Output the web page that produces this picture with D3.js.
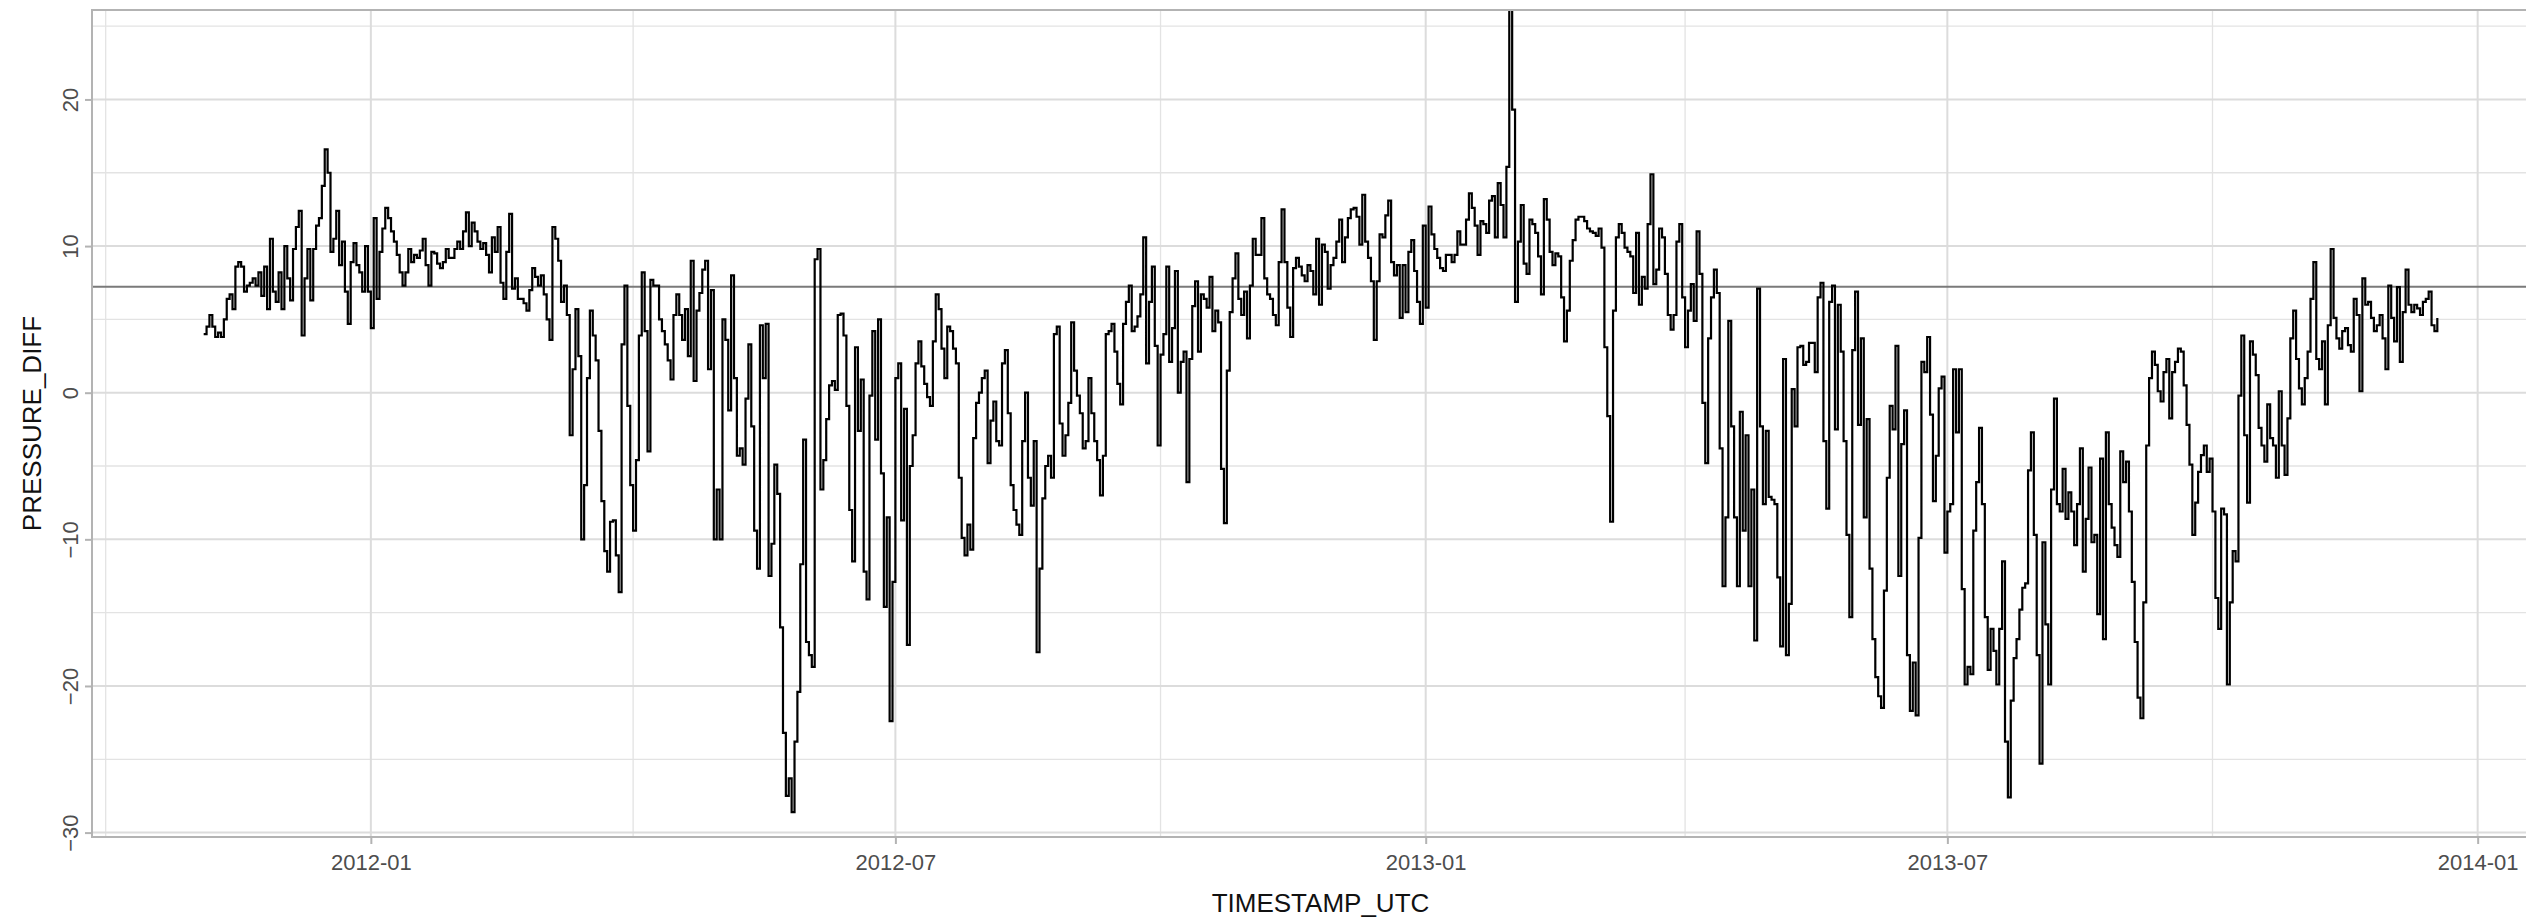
<!DOCTYPE html>
<html>
<head>
<meta charset="utf-8">
<script src="https://cdn.jsdelivr.net/npm/d3@7"></script>
<style>
  html, body { margin: 0; padding: 0; background: #ffffff; }
  svg { display: block; }
</style>
</head>
<body>
<svg id="chart" width="2526" height="922"></svg>
<script>
// ---------------- data ----------------
const firstDay = "2011-11-04";           // date of the first daily value
const pressureDiff = [
  // 2011-11-04 .. 2012-02-21
  4.0,4.5,5.3,4.5,3.8,4.1,3.8,5.0,6.4,6.7,
  5.7,8.6,8.9,8.6,6.9,7.3,7.5,7.8,7.3,8.2,
  6.6,8.6,5.7,10.5,6.9,6.2,8.2,5.7,10.0,7.8,
  6.3,9.8,11.3,12.4,3.9,7.8,9.8,6.3,9.8,11.4,
  11.9,14.1,16.6,15.0,9.6,10.5,12.4,8.7,10.3,6.9,
  4.7,8.9,10.2,8.7,8.2,6.9,10.0,6.9,4.4,11.9,
  6.4,9.6,11.2,12.6,11.9,11.0,10.3,9.4,8.2,7.3,
  8.2,9.8,8.9,9.4,9.2,9.7,10.5,8.7,7.3,9.6,
  9.5,8.8,8.5,8.9,9.8,9.2,9.2,9.8,10.3,9.8,
  11.0,12.3,10.0,11.6,11.0,10.3,9.8,10.2,9.4,8.2,
  10.6,9.6,11.3,7.5,6.4,9.6,12.2,7.1,7.8,6.4,
  // 2012-02-22 .. 2012-06-11
  6.4,6.1,5.6,7.0,8.5,7.9,7.3,8.0,6.7,5.0,
  3.6,11.3,10.5,9.0,6.2,7.3,5.3,-2.9,1.6,5.7,
  2.5,-10,-6.3,1.0,5.6,3.9,2.2,-2.6,-7.4,-10.8,
  -12.2,-8.8,-8.7,-11.1,-13.6,3.3,7.3,-0.9,-6.3,-9.4,
  -4.6,3.9,8.2,4.2,-4.0,7.7,7.3,7.3,5.0,4.2,
  3.3,2.2,0.9,5.3,6.7,5.3,3.6,5.7,2.5,9.0,
  0.8,5.6,6.8,8.4,9.0,1.6,7.0,-10,-6.6,-10,
  5.0,3.6,-1.2,8.0,1.0,-4.3,-3.8,-4.9,-0.4,3.3,
  -2.3,-9.4,-12,4.6,1.0,4.7,-12.5,-10.3,-4.9,-6.9,
  -16,-23.2,-27.5,-26.3,-28.6,-23.8,-20.4,-11.7,-3.2,-17,
  -17.9,-18.7,9.1,9.8,-6.6,-4.6,-1.8,0.5,0.8,0.2,5.3,
  // 2012-06-12 .. 2012-09-30
  5.4,3.9,-0.9,-8.0,-11.5,3.1,-2.6,0.9,-12.2,-14.1,
  -0.2,4.2,-3.2,5.0,-5.5,-14.6,-8.5,-22.4,-12.9,1.0,
  2.0,-8.7,-1.1,-17.2,-5.0,-2.9,2.0,3.5,1.8,0.6,
  -0.3,-0.9,3.5,6.7,5.7,3.0,1.0,4.5,4.2,3.0,
  2.0,-5.8,-9.9,-11.1,-9.0,-10.7,-3.1,-0.7,0.0,1.0,
  1.5,-4.8,-1.9,-0.6,-3.3,-3.6,2.0,2.9,-1.4,-6.3,
  -8.0,-9.0,-9.7,-3.3,0.0,-5.8,-7.7,-3.3,-17.7,-12,
  -7.2,-5.0,-4.3,-5.8,4.0,4.5,-2.1,-4.3,-2.9,-0.7,
  4.8,1.5,-0.2,-1.4,-3.8,-3.3,1.0,-1.4,-3.3,-4.6,
  -7.0,-4.3,4.0,4.2,4.7,2.8,0.6,-0.8,4.7,6.2,
  7.3,4.2,4.5,5.2,6.7,10.6,2.0,6.2,8.6,3.2,-3.6,
  // 2012-10-01 .. 2013-01-20
  2.6,4.0,8.6,2.1,4.4,8.3,0.0,2.1,2.8,-6.1,
  2.3,5.9,7.6,2.8,6.7,6.4,5.8,7.9,4.2,5.6,
  4.8,-5.2,-8.9,1.5,5.5,7.8,9.5,6.4,5.3,6.9,
  3.7,7.3,10.5,9.4,9.4,11.9,7.8,6.7,6.4,5.3,
  4.6,8.9,12.5,8.9,5.8,3.8,8.5,9.2,8.6,8.0,
  7.6,8.7,8.3,6.7,10.5,6.0,10.1,9.6,7.1,8.7,
  9.2,10.3,11.8,8.9,10.6,11.9,12.5,12.6,12.0,10.1,
  13.5,10.3,9.2,7.6,3.6,7.6,10.8,10.6,12.1,13.1,
  8.9,8.0,8.7,5.1,8.7,5.5,9.6,10.4,8.3,6.2,
  4.7,11.4,5.8,12.7,10.8,9.8,9.2,8.5,8.3,9.4,
  9.4,8.9,9.4,11.0,10.1,10.1,11.8,13.6,12.6,11.4,9.4,11.7,
  // 2013-01-21 .. 2013-05-10
  11.5,10.9,13.1,13.4,10.6,14.3,12.8,10.6,15.4,27,
  19.3,6.2,10.3,12.8,8.8,8.1,11.8,11.5,10.9,9.3,
  6.7,13.2,11.8,9.6,8.7,9.5,9.3,6.5,3.5,5.6,
  9.0,10.4,11.8,12.0,12.0,11.7,11.2,11.0,10.9,10.7,
  11.2,9.9,3.1,-1.6,-8.8,5.6,10.6,11.5,10.9,9.9,
  9.6,9.3,6.8,10.9,6.0,7.9,7.1,11.5,14.9,7.4,
  8.4,11.2,10.6,8.1,5.3,4.3,5.3,10.3,11.5,6.5,
  3.1,5.6,7.4,4.9,11.0,8.1,-0.7,-4.8,3.7,6.5,
  8.4,6.8,-3.8,-13.2,-8.5,4.9,-2.3,-8.5,-13.2,-1.3,
  -9.4,-2.9,-13.2,-6.6,-16.9,7.1,-2.3,-7.6,-2.6,-7.1,
  -7.3,-7.6,-12.6,-17.3,2.3,-17.9,-14.4,0.25,-2.3,3.1,
  // 2013-05-11 .. 2013-08-30
  3.2,1.9,2.1,3.4,3.4,1.4,6.5,7.5,-3.3,-7.9,
  6.2,7.3,-2.5,6.0,2.8,-3.3,-9.7,-15.3,2.9,6.9,
  -2.2,3.7,-8.5,-1.8,-12,-16.8,-19.4,-20.7,-21.5,-13.5,
  -5.8,-0.9,-2.5,3.2,-12.5,-3.5,-1.2,-17.9,-21.7,-18.4,
  -22,-9.9,2.1,1.4,3.8,-1.5,-7.4,-4.3,0.3,1.1,
  -10.9,-8.1,-7.6,1.6,-2.7,1.6,-13.4,-19.9,-18.7,-19.2,
  -9.4,-6.1,-2.4,-7.6,-15.3,-18.9,-16.1,-17.6,-19.9,-16.1,
  -11.5,-23.8,-27.6,-21,-18.1,-16.8,-14.8,-13.3,-13,-5.3,
  -2.7,-9.7,-17.9,-25.3,-10.2,-15.8,-19.9,-6.6,-0.4,-7.6,
  -8.1,-5.2,-8.6,-6.8,-8.1,-10.4,-7.6,-3.8,-12.2,-8.6,
  -5.1,-10.2,-9.7,-15.1,-4.5,-16.8,-2.7,-7.6,-9.2,-10.4,-11.2,-4.0,
  // 2013-08-31 .. 2013-12-18
  -6.1,-4.7,-8.1,-12.9,-17.0,-20.8,-22.2,-14.3,-3.6,1.0,
  2.8,1.9,0.1,-0.6,1.4,2.3,-1.75,1.4,2.1,3.0,
  2.8,0.5,-2.2,-4.9,-9.7,-7.5,-5.4,-4.25,-3.6,-5.4,
  -4.5,-8.1,-14,-16.1,-7.9,-8.3,-19.9,-14.3,-10.8,-11.5,
  -0.2,3.9,-2.9,-7.5,3.5,2.6,1.2,-2.4,-3.6,-4.7,
  -0.8,-3.1,-3.6,-5.8,0.1,-3.6,-5.6,-1.75,3.7,5.6,
  2.3,0.3,-0.8,1.0,2.8,6.4,8.9,2.3,1.6,3.5,
  -0.8,4.6,9.8,5.1,3.7,3.0,4.2,4.4,3.25,2.8,
  6.4,5.3,0.1,7.8,6.0,6.2,5.1,4.2,4.6,5.3,
  3.7,1.6,7.3,5.1,3.5,7.2,2.1,5.5,8.4,6.0,
  5.5,6.0,5.75,5.3,6.2,6.4,6.9,4.6,4.2,5.1
];
const refLevel = 7.23;                   // horizontal reference line
const yDomain = [-30.3, 26.1];
const yTicks = [-30, -20, -10, 0, 10, 20];
const yMinorTicks = [-25, -15, -5, 5, 15, 25];
const xTickLabels = ["2012-01", "2012-07", "2013-01", "2013-07", "2014-01"];
const xMinorTicks = ["2011-10", "2012-04", "2012-10", "2013-04", "2013-10"];
const xTitle = "TIMESTAMP_UTC";
const yTitle = "PRESSURE_DIFF";

// ---------------- layout ----------------
const W = 2526, H = 922;
const panel = { left: 92, top: 10, right: 2549, bottom: 837 };
const FONT = "'Liberation Sans', Arial, Helvetica, sans-serif";

const parseDay = d3.utcParse("%Y-%m-%d");
const parseMonth = d3.utcParse("%Y-%m");
const start = parseDay(firstDay);
const series = pressureDiff.map((v, i) => ({ t: d3.utcDay.offset(start, i), v }));

const ext = d3.extent(series, d => d.t);
const pad = (ext[1] - ext[0]) * 0.05;
const x = d3.scaleUtc()
  .domain([new Date(+ext[0] - pad), new Date(+ext[1] + pad)])
  .range([panel.left, panel.right]);
const y = d3.scaleLinear().domain(yDomain).range([panel.bottom, panel.top]);

const svg = d3.select("#chart");
svg.append("rect").attr("width", W).attr("height", H).attr("fill", "#ffffff");

svg.append("defs").append("clipPath").attr("id", "clip")
  .append("rect")
  .attr("x", panel.left).attr("y", panel.top)
  .attr("width", panel.right - panel.left).attr("height", panel.bottom - panel.top);

const g = svg.append("g").attr("clip-path", "url(#clip)");

// minor grid
g.selectAll(".ymin").data(yMinorTicks).join("line")
  .attr("x1", panel.left).attr("x2", panel.right)
  .attr("y1", d => y(d)).attr("y2", d => y(d))
  .attr("stroke", "#e3e3e3").attr("stroke-width", 1.3);
g.selectAll(".xmin").data(xMinorTicks.map(parseMonth)).join("line")
  .attr("y1", panel.top).attr("y2", panel.bottom)
  .attr("x1", d => x(d)).attr("x2", d => x(d))
  .attr("stroke", "#e3e3e3").attr("stroke-width", 1.3);
// major grid
g.selectAll(".ymaj").data(yTicks).join("line")
  .attr("x1", panel.left).attr("x2", panel.right)
  .attr("y1", d => y(d)).attr("y2", d => y(d))
  .attr("stroke", "#dcdcdc").attr("stroke-width", 2);
g.selectAll(".xmaj").data(xTickLabels.map(parseMonth)).join("line")
  .attr("y1", panel.top).attr("y2", panel.bottom)
  .attr("x1", d => x(d)).attr("x2", d => x(d))
  .attr("stroke", "#dcdcdc").attr("stroke-width", 2);

// reference line
g.append("line")
  .attr("x1", panel.left).attr("x2", panel.right)
  .attr("y1", y(refLevel)).attr("y2", y(refLevel))
  .attr("stroke", "#7a7a7a").attr("stroke-width", 2);

// data
const line = d3.line().x(d => x(d.t)).y(d => y(d.v)).curve(d3.curveStepAfter);
g.append("path").datum(series)
  .attr("d", line)
  .attr("fill", "none").attr("stroke", "#000000")
  .attr("stroke-width", 2.2).attr("stroke-linejoin", "miter");

// panel border
svg.append("rect")
  .attr("x", panel.left).attr("y", panel.top)
  .attr("width", panel.right - panel.left).attr("height", panel.bottom - panel.top)
  .attr("fill", "none").attr("stroke", "#b3b3b3").attr("stroke-width", 2);

// axes
const xAxis = d3.axisBottom(x)
  .tickValues(xTickLabels.map(parseMonth))
  .tickFormat(d3.utcFormat("%Y-%m"))
  .tickSize(7).tickPadding(10);
const gx = svg.append("g").attr("transform", `translate(0,${panel.bottom})`).call(xAxis);
gx.select(".domain").remove();
gx.selectAll(".tick line").attr("stroke", "#b3b3b3").attr("stroke-width", 2);
gx.selectAll(".tick text")
  .attr("fill", "#4d4d4d").style("font-family", FONT).style("font-size", "22px")
  .attr("dy", "0.71em");

const yAxis = d3.axisLeft(y).tickValues(yTicks).tickSize(7).tickFormat(d3.format("d"));
const gy = svg.append("g").attr("transform", `translate(${panel.left},0)`).call(yAxis);
gy.select(".domain").remove();
gy.selectAll(".tick line").attr("stroke", "#b3b3b3").attr("stroke-width", 2);
gy.selectAll(".tick text")
  .attr("x", null).attr("dy", null)
  .attr("text-anchor", "middle")
  .attr("transform", "translate(-14,0) rotate(-90)")
  .attr("fill", "#4d4d4d").style("font-family", FONT).style("font-size", "22px");

// titles
svg.append("text")
  .attr("x", (panel.left + panel.right) / 2).attr("y", 912)
  .attr("text-anchor", "middle")
  .style("font-family", FONT).style("font-size", "26px").attr("fill", "#111")
  .text(xTitle);
svg.append("text")
  .attr("transform", `translate(41,${(panel.top + panel.bottom) / 2}) rotate(-90)`)
  .attr("text-anchor", "middle")
  .style("font-family", FONT).style("font-size", "26px").attr("fill", "#111")
  .text(yTitle);
</script>
</body>
</html>
